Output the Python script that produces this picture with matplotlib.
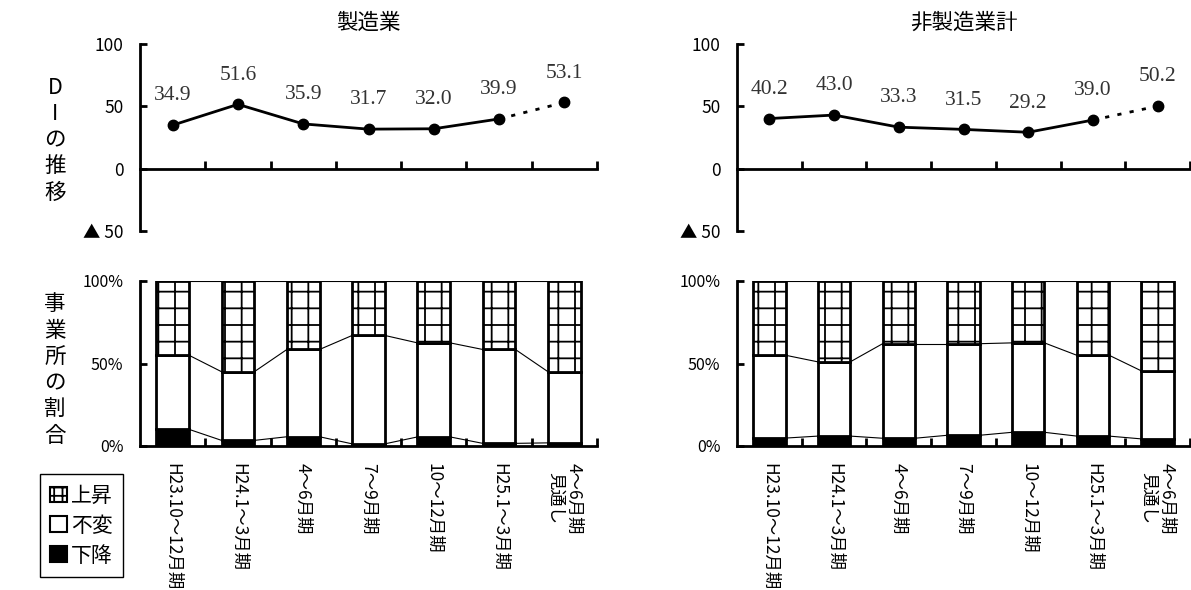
import matplotlib.pyplot as plt
from matplotlib.patches import Patch
import numpy as np

# periods (x categories)
periods = ["H23.10～12月期", "H24.1～3月期", "4～6月期", "7～9月期",
           "10～12月期", "H25.1～3月期", "4～6月期\n見通し"]

# DI values
di_mfg = [34.9, 51.6, 35.9, 31.7, 32.0, 39.9, 53.1]
di_non = [40.2, 43.0, 33.3, 31.5, 29.2, 39.0, 50.2]

# share of establishments (%): down / unchanged / up
down_mfg = [10.1, 3.4, 5.6, 1.3, 5.5, 1.6, 1.9]
flat_mfg = [44.9, 41.6, 52.9, 65.7, 57.0, 56.9, 43.1]
up_mfg = [45.0, 55.0, 41.5, 33.0, 37.5, 41.5, 55.0]

down_non = [4.8, 6.0, 4.7, 6.5, 8.3, 6.0, 4.3]
flat_non = [50.2, 45.0, 57.3, 55.5, 54.2, 49.0, 41.2]
up_non = [45.0, 49.0, 38.0, 38.0, 37.5, 45.0, 54.5]

titles = ["製造業", "非製造業計"]

plt.rcParams["font.family"] = ["Noto Sans CJK JP", "DejaVu Sans"]
plt.rcParams["hatch.linewidth"] = 1.3
plt.rcParams["hatch.color"] = "black"

fig = plt.figure(figsize=(11.91, 5.90), dpi=100)

panel_left = [140 / 1191, 737 / 1191]
panel_width = [457 / 1191, 453 / 1191]


def draw_di(ax, values, title):
    x = np.arange(len(values))
    ax.plot(x[:-1], values[:-1], color="black", lw=2, marker="o", ms=7.5)
    ax.plot(x[-2:], values[-2:], color="black", lw=2, ls=(0, (1.5, 3)))
    ax.plot(x[-1], values[-1], color="black", marker="o", ms=7.5)
    for xi, v in zip(x, values):
        ax.annotate(f"{v:.1f}", (xi, v), xytext=(0, 21), textcoords="offset points",
                    ha="center", va="center", fontsize=15.5,
                    family="Liberation Serif", color="#333333")
    ax.set_xlim(-0.5, len(values) - 0.5)
    ax.set_ylim(-50, 100)
    ax.set_yticks([-50, 0, 50, 100], ["▲ 50", "0", "50", "100"])
    ax.set_xticks(np.arange(len(values)) + 0.5, [])
    ax.spines["top"].set_visible(False)
    ax.spines["right"].set_visible(False)
    ax.spines["bottom"].set_position(("data", 0))
    ax.spines["left"].set_linewidth(2)
    ax.spines["bottom"].set_linewidth(2)
    ax.tick_params(axis="y", direction="in", length=5, width=2, labelsize=12.5, pad=12)
    ax.tick_params(axis="x", direction="in", length=6, width=2)
    ax.set_title(title, fontsize=15.5, pad=11)


def draw_bars(ax, down, flat, up, labels):
    x = np.arange(len(down))
    down = np.array(down)
    flat = np.array(flat)
    up = np.array(up)
    w = 0.5
    ax.bar(x, down, width=w, color="black", edgecolor="black", lw=2)
    ax.bar(x, flat, width=w, bottom=down, color="white", edgecolor="black", lw=2)
    ax.bar(x, up, width=w, bottom=down + flat, color="white", edgecolor="black",
           lw=2, hatch="+")
    # series lines between bars
    for level in [down, down + flat, down + flat + up]:
        for i in range(len(x) - 1):
            ax.plot([x[i] + w / 2, x[i + 1] - w / 2], [level[i], level[i + 1]],
                    color="black", lw=0.8, zorder=1)
    ax.set_xlim(-0.5, len(x) - 0.5)
    ax.set_ylim(0, 100)
    ax.set_yticks([0, 50, 100], ["0%", "50%", "100%"])
    ax.set_xticks(x + 0.5, [])
    ax.set_xticks(x, labels, minor=True)
    ax.spines["top"].set_visible(False)
    ax.spines["right"].set_visible(False)
    ax.spines["left"].set_linewidth(2)
    ax.spines["bottom"].set_linewidth(2)
    ax.tick_params(axis="y", direction="in", length=5, width=2, labelsize=11.5, pad=12)
    ax.tick_params(axis="x", which="major", direction="in", length=6, width=2)
    ax.tick_params(axis="x", which="minor", length=0, pad=12, labelsize=12.5,
                   labelrotation=270)
    for lab in ax.get_xticklabels(minor=True):
        lab.set_va("top")
        lab.set_ha("center")
        lab.set_linespacing(1.0)


di_sets = [di_mfg, di_non]
bar_sets = [(down_mfg, flat_mfg, up_mfg), (down_non, flat_non, up_non)]
for k in range(2):
    ax_di = fig.add_axes([panel_left[k], 1 - 231 / 590, panel_width[k], 187 / 590])
    draw_di(ax_di, di_sets[k], titles[k])
    ax_bar = fig.add_axes([panel_left[k], 1 - 446 / 590, panel_width[k], 165 / 590])
    draw_bars(ax_bar, *bar_sets[k], periods)

fig.text(55 / 1191, 1 - 140 / 590, "\n".join("DIの推移"), ha="center", va="center",
         fontsize=15.5, linespacing=1.25)
fig.text(55 / 1191, 1 - 370 / 590, "\n".join("事業所の割合"), ha="center", va="center",
         fontsize=15.5, linespacing=1.25)

handles = [Patch(facecolor="white", edgecolor="black", hatch="++", lw=1.5, label="上昇"),
           Patch(facecolor="white", edgecolor="black", lw=1.5, label="不変"),
           Patch(facecolor="black", edgecolor="black", lw=1.5, label="下降")]
leg = fig.legend(handles=handles, loc="lower left", bbox_to_anchor=(40 / 1191, 13 / 590),
                 borderaxespad=0, fontsize=15, handlelength=0.8, handleheight=0.8,
                 handletextpad=0.2, labelspacing=0.38, borderpad=0.5, fancybox=False,
                 edgecolor="black", framealpha=1)
leg.get_frame().set_linewidth(1.0)

fig.savefig("out.png", dpi=100)
